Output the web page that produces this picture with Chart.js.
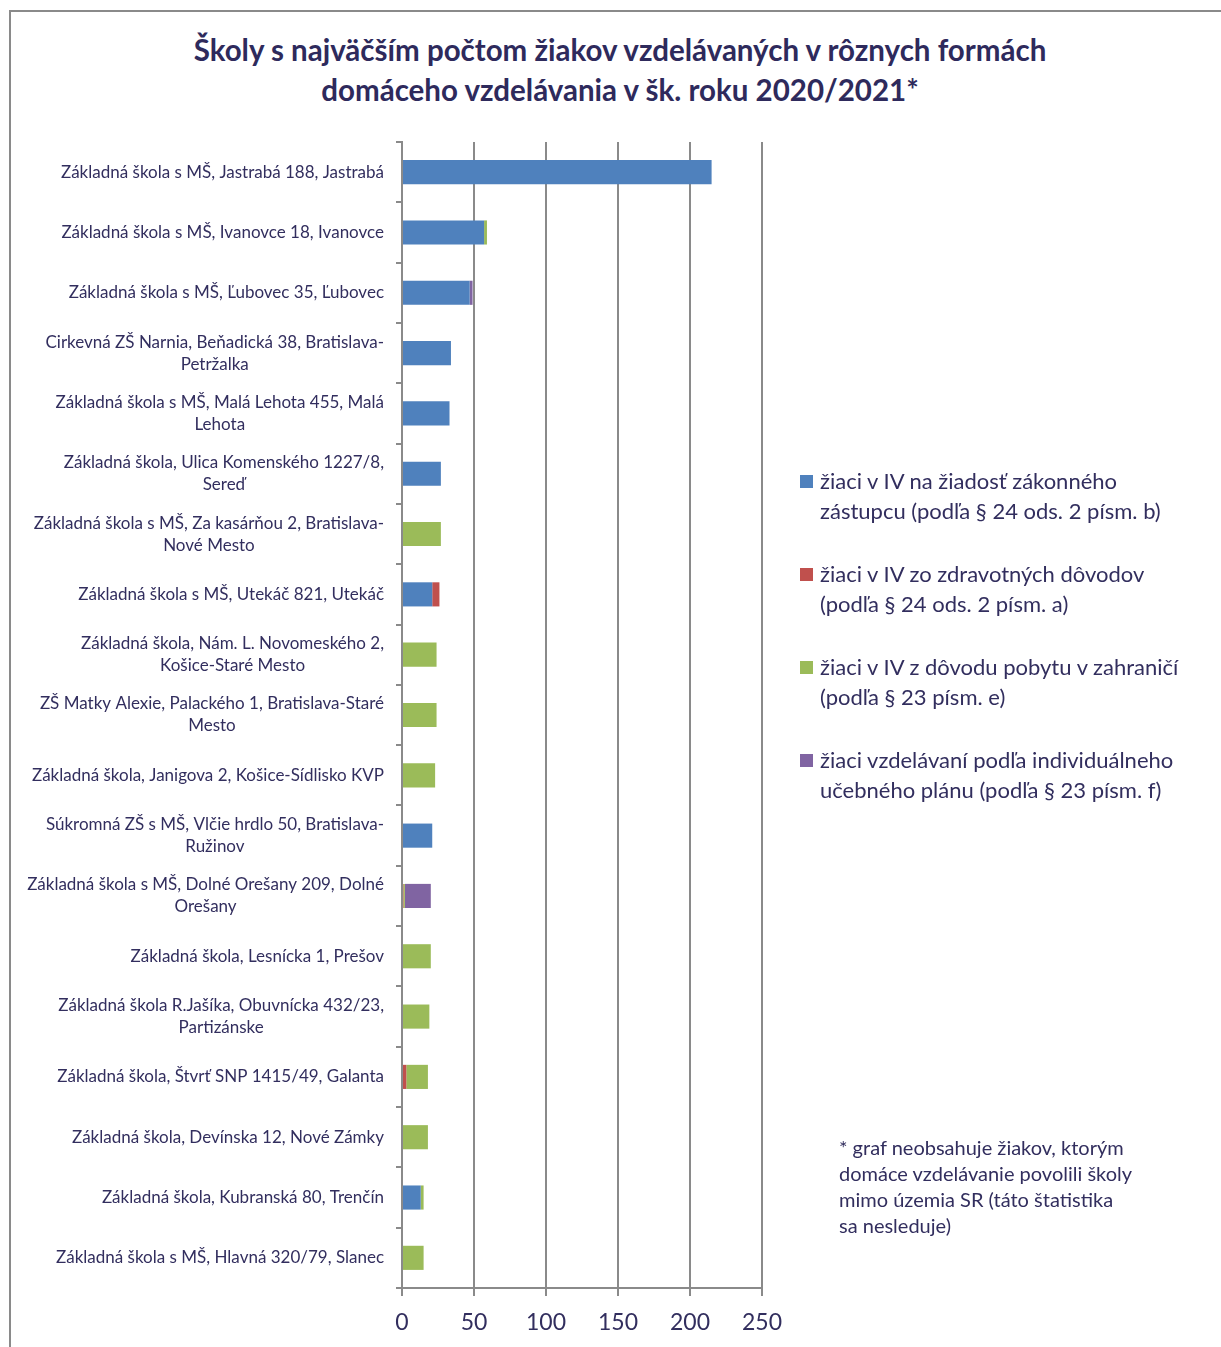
<!DOCTYPE html>
<html>
<head>
<meta charset="utf-8">
<script src="https://cdn.jsdelivr.net/npm/chart.js@4/dist/chart.umd.min.js"></script>
<style>
  body { margin: 0; background: #fff; font-family: Lato, sans-serif; color: #322e5e; }
  #frame { position: absolute; left: 9px; top: 10px; width: 1300px; height: 1400px;
    border-top: 2px solid #8a8a8a; border-left: 2px solid #8a8a8a; }
  #title { position: absolute; left: 0; width: 1240px; top: 30px; text-align: center;
    font-weight: bold; font-size: 29.5px; line-height: 40px; color: #2e2a5c; }
  #chart { position: absolute; left: 0; top: 0; }
  #legend { position: absolute; left: 800px; top: 466px; width: 420px; }
  .item { position: relative; padding-left: 20px; font-size: 22px; line-height: 30px; margin-bottom: 33px; }
  .item span { position: absolute; left: 0; top: 9px; width: 13px; height: 13px; }
  #note { position: absolute; left: 839px; top: 1134px; font-size: 20px; line-height: 26px; width: 370px; }
</style>
</head>
<body>
<div id="frame"></div>
<div id="title">Školy s najväčším počtom žiakov vzdelávaných v rôznych formách<br>domáceho vzdelávania v šk. roku 2020/2021*</div>
<canvas id="chart" width="1221" height="1347"></canvas>
<div id="legend"></div>
<div id="note">* graf neobsahuje žiakov, ktorým<br>domáce vzdelávanie povolili školy<br>mimo územia SR (táto štatistika<br>sa nesleduje)</div>
<script>
const schools = [
  ['Základná škola s MŠ, Jastrabá 188, Jastrabá'],
  ['Základná škola s MŠ, Ivanovce 18, Ivanovce'],
  ['Základná škola s MŠ, Ľubovec 35, Ľubovec'],
  ['Cirkevná ZŠ Narnia, Beňadická 38, Bratislava-', 'Petržalka'],
  ['Základná škola s MŠ, Malá Lehota 455, Malá', 'Lehota'],
  ['Základná škola, Ulica Komenského 1227/8,', 'Sereď'],
  ['Základná škola s MŠ, Za kasárňou 2, Bratislava-', 'Nové Mesto'],
  ['Základná škola s MŠ, Utekáč 821, Utekáč'],
  ['Základná škola, Nám. L. Novomeského 2,', 'Košice-Staré Mesto'],
  ['ZŠ Matky Alexie, Palackého 1, Bratislava-Staré', 'Mesto'],
  ['Základná škola, Janigova 2, Košice-Sídlisko KVP'],
  ['Súkromná ZŠ s MŠ, Vlčie hrdlo 50, Bratislava-', 'Ružinov'],
  ['Základná škola s MŠ, Dolné Orešany 209, Dolné', 'Orešany'],
  ['Základná škola, Lesnícka 1, Prešov'],
  ['Základná škola R.Jašíka, Obuvnícka 432/23,', 'Partizánske'],
  ['Základná škola, Štvrť SNP 1415/49, Galanta'],
  ['Základná škola, Devínska 12, Nové Zámky'],
  ['Základná škola, Kubranská 80, Trenčín'],
  ['Základná škola s MŠ, Hlavná 320/79, Slanec']
]

const seriesNames = [
  ['žiaci v IV na žiadosť zákonného', 'zástupcu (podľa § 24 ods. 2 písm. b)'],
  ['žiaci v IV zo zdravotných dôvodov', '(podľa § 24 ods. 2 písm. a)'],
  ['žiaci v IV z dôvodu pobytu v zahraničí', '(podľa § 23 písm. e)'],
  ['žiaci vzdelávaní podľa individuálneho', 'učebného plánu (podľa § 23 písm. f)']
]

const onRequest = [215, 57, 47, 34, 33, 27, 0, 21, 0, 0, 0, 21, 0, 0, 0, 0, 0, 13, 0]
const health = [0, 0, 0, 0, 0, 0, 0, 5, 0, 0, 0, 0, 1, 0, 0, 3, 0, 0, 0]
const abroad = [0, 2, 0, 0, 0, 0, 27, 0, 24, 24, 23, 0, 1, 20, 19, 15, 18, 2, 15]
const individual = [0, 0, 2, 0, 0, 0, 0, 0, 0, 0, 0, 0, 18, 0, 0, 0, 0, 0, 0]

const xTicks = [0, 50, 100, 150, 200, 250]

const colors = ['#4f81bd', '#c0504d', '#9bbb59', '#8064a2']
const textColor = '#322e5e'
const gridColor = '#8a8a8a'

// legend as html, wrapped like the original
const legend = document.getElementById('legend')
seriesNames.forEach((lines, i) => {
  const div = document.createElement('div')
  div.className = 'item'
  div.innerHTML = '<span style="background:' + colors[i] + '"></span>' + lines.join('<br>')
  legend.appendChild(div)
})

// y labels: block right aligned, lines centered inside the block
const schoolLabels = {
  id: 'schoolLabels',
  afterDraw (chart) {
    const ctx = chart.ctx
    const y = chart.scales.y
    ctx.save()
    ctx.font = '17px Lato'
    ctx.fillStyle = textColor
    ctx.textAlign = 'center'
    ctx.textBaseline = 'middle'
    const right = 384
    const lh = 22
    schools.forEach((lines, i) => {
      const widest = Math.max(...lines.map(l => ctx.measureText(l).width))
      const cx = right - widest / 2
      const cy = y.getPixelForValue(i)
      const top = cy - (lines.length - 1) * lh / 2
      lines.forEach((l, j) => ctx.fillText(l, cx, top + j * lh))
    })
    ctx.restore()
  }
}

const values = [onRequest, health, abroad, individual]

new Chart(document.getElementById('chart').getContext('2d'), {
  type: 'bar',
  data: {
    labels: schools.map(s => s.join(' ')),
    datasets: values.map((v, i) => ({
      label: seriesNames[i].join(' '),
      data: v,
      backgroundColor: colors[i],
      borderWidth: 0,
      barPercentage: 0.4,
      categoryPercentage: 1
    }))
  },
  options: {
    indexAxis: 'y',
    responsive: false,
    animation: false,
    devicePixelRatio: 1,
    layout: { padding: { top: 142, right: 459, left: 0, bottom: 0 } },
    plugins: {
      legend: { display: false },
      title: { display: false },
      tooltip: { enabled: false }
    },
    scales: {
      x: {
        stacked: true,
        min: 0,
        max: 250,
        afterBuildTicks: axis => { axis.ticks = xTicks.map(v => ({ value: v })) },
        afterFit: axis => { axis.height = 59 },
        grid: { color: gridColor, lineWidth: 2, tickLength: 8 },
        border: { color: gridColor, width: 2 },
        ticks: { color: textColor, font: { family: 'Lato', size: 23 }, padding: 13 }
      },
      y: {
        stacked: true,
        afterFit: axis => { axis.width = 402 },
        grid: { offset: true, drawOnChartArea: false, color: gridColor, lineWidth: 2, tickLength: 6 },
        border: { color: gridColor, width: 2 },
        ticks: { display: false }
      }
    }
  },
  plugins: [schoolLabels]
})
</script>
</body>
</html>
